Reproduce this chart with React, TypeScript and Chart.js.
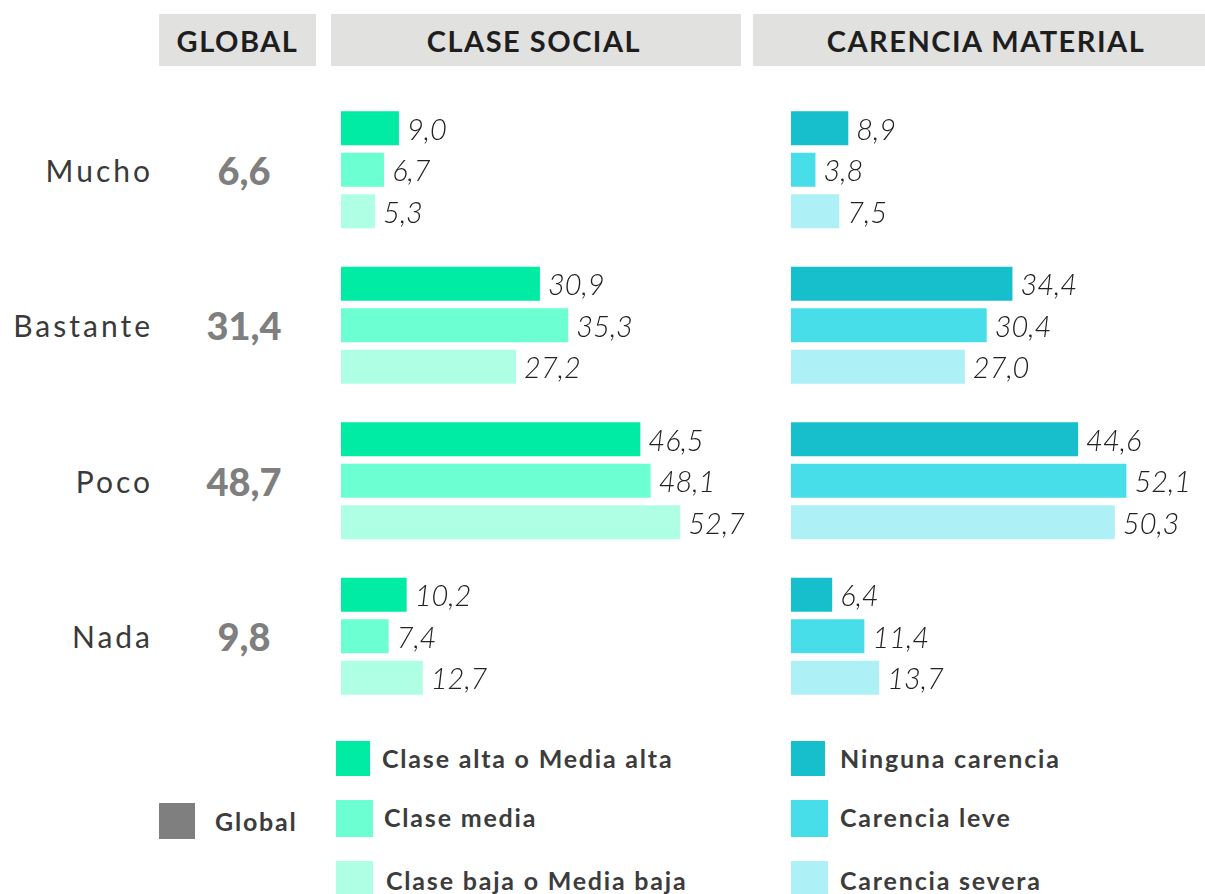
import React, { useEffect, useRef } from "react";
import { Chart, registerables } from "chart.js";

Chart.register(...registerables);

const categories = ["Mucho", "Bastante", "Poco", "Nada"];
const globalValues = [6.6, 31.4, 48.7, 9.8];

const claseLabels = ["Clase alta o Media alta", "Clase media", "Clase baja o Media baja"];
const claseAlta = [9.0, 30.9, 46.5, 10.2];
const claseMedia = [6.7, 35.3, 48.1, 7.4];
const claseBaja = [5.3, 27.2, 52.7, 12.7];

const carenciaLabels = ["Ninguna carencia", "Carencia leve", "Carencia severa"];
const ningunaCarencia = [8.9, 34.4, 44.6, 6.4];
const carenciaLeve = [3.8, 30.4, 52.1, 11.4];
const carenciaSevera = [7.5, 27.0, 50.3, 13.7];

const headers = ["GLOBAL", "CLASE SOCIAL", "CARENCIA MATERIAL"];

const claseColors = ["#00EBA4", "#6BFFD2", "#AFFFE5"];
const carenciaColors = ["#17BFCC", "#47DEEA", "#ADF1F6"];
const globalColor = "#7F7F7F";

const fmt = (v: number) => v.toFixed(1).replace(".", ",");

const PLOT_TOP = 92;
const PLOT_H = 622;
const PITCH = PLOT_H / categories.length;

const valueLabels = {
  id: "valueLabels",
  afterDatasetsDraw(chart: any) {
    const ctx = chart.ctx;
    ctx.save();
    ctx.font = "italic 300 29px Lato";
    ctx.fillStyle = "#222222";
    ctx.textAlign = "left";
    ctx.textBaseline = "middle";
    chart.data.datasets.forEach((ds: any, di: number) => {
      const meta = chart.getDatasetMeta(di);
      meta.data.forEach((bar: any, i: number) => {
        ctx.fillText(fmt(ds.data[i]), bar.x + 8, bar.y + 2);
      });
    });
    ctx.restore();
  },
};

function Panel({ left, series, labels, colors }: { left: number; series: number[][]; labels: string[]; colors: string[] }) {
  const ref = useRef<HTMLCanvasElement>(null);
  useEffect(() => {
    const chart = new Chart(ref.current!, {
      type: "bar",
      data: {
        labels: categories,
        datasets: series.map((d, i) => ({
          label: labels[i],
          data: d,
          backgroundColor: colors[i],
          borderWidth: 0,
          categoryPercentage: 0.8,
          barPercentage: 0.82,
        })),
      },
      options: {
        indexAxis: "y",
        animation: false,
        responsive: false,
        maintainAspectRatio: false,
        layout: { padding: 0 },
        plugins: { legend: { display: false }, tooltip: { enabled: false } },
        scales: {
          x: { display: false, min: 0, max: 64 },
          y: { display: false },
        },
      },
      plugins: [valueLabels],
    });
    return () => chart.destroy();
  }, []);
  return (
    <canvas
      ref={ref}
      width={412}
      height={PLOT_H}
      style={{ position: "absolute", left, top: PLOT_TOP, width: 412, height: PLOT_H }}
    />
  );
}

const headerBoxes = [
  { left: 159, width: 157, shift: 0 },
  { left: 331, width: 410, shift: -4 },
  { left: 753, width: 452, shift: 14 },
];

const legendRows = [
  { top: 741, h: 35, cy: 758 },
  { top: 800, h: 37, cy: 817 },
  { top: 861, h: 37, cy: 880 },
];

const legendText: React.CSSProperties = {
  position: "absolute",
  height: 36,
  lineHeight: "36px",
  fontSize: 25,
  fontWeight: 700,
  letterSpacing: 1.8,
  color: "#3C3C3C",
  whiteSpace: "nowrap",
};

export default function App() {
  const font = "Lato, 'Open Sans', sans-serif";
  return (
    <div style={{ position: "absolute", left: 0, top: 0, width: 1205, height: 894, background: "#fff", overflow: "hidden", fontFamily: font }}>
      {headers.map((h, i) => (
        <div
          key={h}
          style={{
            position: "absolute",
            left: headerBoxes[i].left,
            top: 14,
            width: headerBoxes[i].width,
            height: 52,
            background: "#E1E1E0",
            color: "#1E1E1E",
            fontWeight: 700,
            fontSize: 29,
            letterSpacing: 1.5,
            lineHeight: "54px",
            textAlign: "center",
            boxSizing: "border-box",
            paddingLeft: Math.max(0, headerBoxes[i].shift),
            paddingRight: Math.max(0, -headerBoxes[i].shift),
          }}
        >
          {h}
        </div>
      ))}

      {categories.map((c, i) => {
        const cy = PLOT_TOP + PITCH * (i + 0.5);
        return (
          <React.Fragment key={c}>
            <div
              style={{
                position: "absolute",
                right: 1205 - 153,
                top: cy - 20,
                height: 40,
                lineHeight: "40px",
                fontSize: 30,
                fontWeight: 400,
                letterSpacing: 3,
                color: "#3A3A3A",
                whiteSpace: "nowrap",
              }}
            >
              {c}
            </div>
            <div
              style={{
                position: "absolute",
                left: 194,
                width: 100,
                top: cy - 26,
                height: 52,
                lineHeight: "52px",
                textAlign: "center",
                fontSize: 38,
                fontWeight: 900,
                color: globalColor,
              }}
            >
              {fmt(globalValues[i])}
            </div>
          </React.Fragment>
        );
      })}

      <Panel left={341} series={[claseAlta, claseMedia, claseBaja]} labels={claseLabels} colors={claseColors} />
      <Panel left={791} series={[ningunaCarencia, carenciaLeve, carenciaSevera]} labels={carenciaLabels} colors={carenciaColors} />

      <div style={{ position: "absolute", left: 159, top: 803, width: 36, height: 36, background: globalColor }} />
      <div style={{ ...legendText, left: 215, top: 803 }}>Global</div>

      {claseLabels.map((l, i) => (
        <React.Fragment key={l}>
          <div style={{ position: "absolute", left: 336, top: legendRows[i].top, width: i === 0 ? 34 : 37, height: legendRows[i].h, background: claseColors[i] }} />
          <div style={{ ...legendText, left: 382 + i * 2, top: legendRows[i].cy - 18 }}>{l}</div>
        </React.Fragment>
      ))}

      {carenciaLabels.map((l, i) => (
        <React.Fragment key={l}>
          <div style={{ position: "absolute", left: 791, top: legendRows[i].top, width: i === 0 ? 34 : 37, height: legendRows[i].h, background: carenciaColors[i] }} />
          <div style={{ ...legendText, left: 840, top: legendRows[i].cy - 18 }}>{l}</div>
        </React.Fragment>
      ))}
    </div>
  );
}
